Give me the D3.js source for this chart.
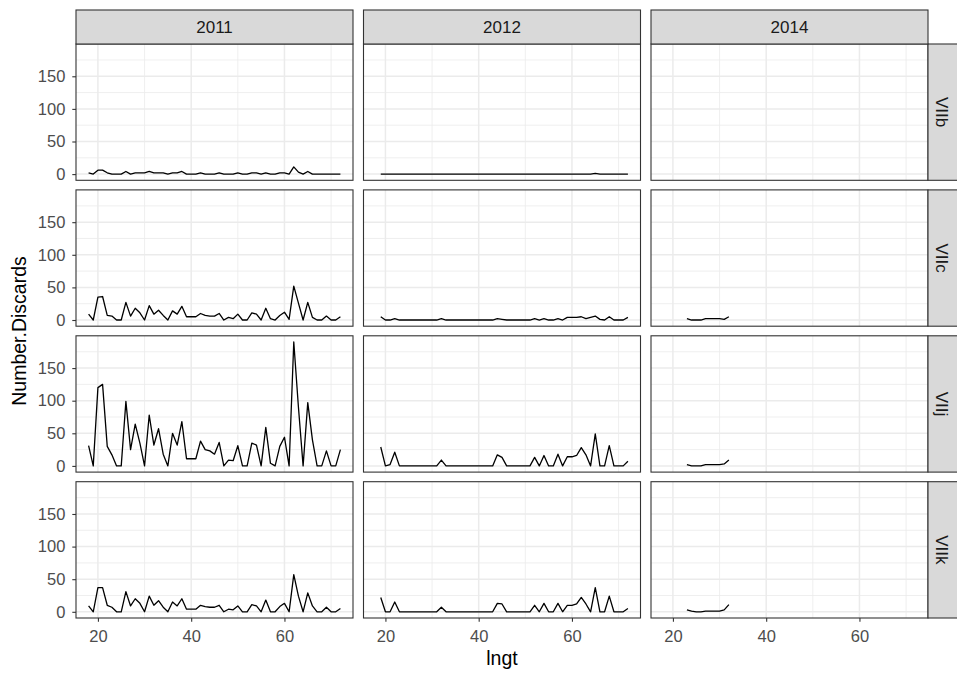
<!DOCTYPE html>
<html>
<meta charset="utf-8">
<style type="text/css">
  body { margin: 0; background: #fff; }
  svg { display: block; font-family: "Liberation Sans", Arial, sans-serif; }
</style>
<body>
<svg width="957" height="677"></svg>
<script src="https://d3js.org/d3.v7.min.js"></script>
<script>

// facets
const years = ["2011", "2012", "2014"];
const areas = ["VIIb", "VIIc", "VIIj", "VIIk"];

// length classes per year
const lngt2011 = [18,19,20,21,22,23,24,25,26,27,28,29,30,31,32,33,34,35,36,37,38,39,40,41,42,43,44,45,
                  46,47,48,49,50,51,52,53,54,55,56,57,58,59,60,61,62,63,64,65,66,67,68,69,70,71,72];
const lngt2012 = [19,20,21,22,23,24,25,26,27,28,29,30,31,32,33,34,35,36,37,38,39,40,41,42,43,44,45,
                  46,47,48,49,50,51,52,53,54,55,56,57,58,59,60,61,62,63,64,65,66,67,68,69,70,71,72];
const lngt2014 = [23,24,25,26,27,28,29,30,31,32];

// number of discards
const viib2011 = [2,0,6,6,2,0,0,0,4,0,2,2,2,4,2,2,2,0,2,2,4,0,0,0,2,0,0,0,2,0,0,0,2,0,0,2,2,0,2,0,0,2,2,0,11,3,0,4,0,0,0,0,0,0,0];
const viic2011 = [9,0,35,36,7,6,0,0,27,6,18,11,0,22,9,15,7,0,14,9,21,5,5,5,10,7,6,6,10,0,4,2,9,0,0,11,9,0,18,2,0,7,12,1,52,26,0,27,4,0,0,6,0,0,5];
const viij2011 = [31,0,120,125,30,17,0,0,99,25,64,35,0,78,32,57,18,0,50,32,68,11,11,11,38,25,23,18,36,0,9,8,31,0,0,35,32,0,59,4,0,30,44,0,190,90,0,97,40,0,0,23,0,0,25];
const viik2011 = [9,0,37,37,10,7,0,0,31,9,20,13,0,24,10,17,7,0,15,9,20,4,4,4,10,8,7,7,10,0,4,3,9,0,0,11,9,0,18,0,0,8,13,0,57,24,0,29,9,0,0,7,0,0,5];

const viib2012 = [0,0,0,0,0,0,0,0,0,0,0,0,0,0,0,0,0,0,0,0,0,0,0,0,0,0,0,0,0,0,0,0,0,0,0,0,0,0,0,0,0,0,0,0,0,0,1,0,0,0,0,0,0,0];
const viic2012 = [5,0,0,2,0,0,0,0,0,0,0,0,0,2,0,0,0,0,0,0,0,0,0,0,0,2,1,0,0,0,0,0,0,2,0,2,0,0,2,0,4,4,4,5,2,4,6,1,0,5,0,0,0,4];
const viij2012 = [29,0,2,21,0,0,0,0,0,0,0,0,0,9,0,0,0,0,0,0,0,0,0,0,0,17,13,0,0,0,0,0,0,13,0,16,0,0,18,0,14,14,16,28,17,0,49,0,0,31,0,0,0,7];
const viik2012 = [22,0,0,15,0,0,0,0,0,0,0,0,0,7,0,0,0,0,0,0,0,0,0,0,0,13,12,0,0,0,0,0,0,10,0,13,0,0,13,0,10,10,12,22,12,0,37,0,0,24,0,0,0,5];

const viic2014 = [2,0,0,0,2,2,2,2,1,5];
const viij2014 = [2,0,0,0,2,2,2,2,3,9];
const viik2014 = [3,1,0,0,1,1,1,1,3,11];

// axis breaks
const yBreaks = [0, 50, 100, 150];
const yMinor = [25, 75, 125, 175];
const xBreaks = [20, 40, 60];
const xMinor = [30, 50, 70];

const lengths = { "2011": lngt2011, "2012": lngt2012, "2014": lngt2014 };
const series = {
  "VIIb": { "2011": viib2011, "2012": viib2012, "2014": [] },
  "VIIc": { "2011": viic2011, "2012": viic2012, "2014": viic2014 },
  "VIIj": { "2011": viij2011, "2012": viij2012, "2014": viij2014 },
  "VIIk": { "2011": viik2011, "2012": viik2012, "2014": viik2014 }
};

const svg = d3.select("svg");

// panel layout
const colLeft = [76, 363.5, 651];
const panelW = 277;
const rowTop = [44, 189.9, 335.8, 481.7];
const panelH = 136.3;
const stripH = 34;

// x: range 18..72 plus 5% ; y: 0..190 plus 5%
const xDomain = [15.3, 74.7];
const yDomain = [-9.5, 199.5];

const line = (x, y) => d3.line().x(d => x(d[0])).y(d => y(d[1]));

areas.forEach((area, r) => {
  const y = d3.scaleLinear().domain(yDomain).range([rowTop[r] + panelH, rowTop[r]]);

  years.forEach((year, c) => {
    const x = d3.scaleLinear().domain(xDomain).range([colLeft[c], colLeft[c] + panelW]);
    const g = svg.append("g");

    g.append("rect")
      .attr("x", colLeft[c]).attr("y", rowTop[r])
      .attr("width", panelW).attr("height", panelH)
      .attr("fill", "#fff");

    // grid
    g.selectAll(".hmin").data(yMinor).enter().append("line")
      .attr("x1", colLeft[c]).attr("x2", colLeft[c] + panelW)
      .attr("y1", d => y(d)).attr("y2", d => y(d))
      .attr("stroke", "#EBEBEB").attr("stroke-width", 0.8);
    g.selectAll(".vmin").data(xMinor).enter().append("line")
      .attr("y1", rowTop[r]).attr("y2", rowTop[r] + panelH)
      .attr("x1", d => x(d)).attr("x2", d => x(d))
      .attr("stroke", "#EBEBEB").attr("stroke-width", 0.8);
    g.selectAll(".hmaj").data(yBreaks).enter().append("line")
      .attr("x1", colLeft[c]).attr("x2", colLeft[c] + panelW)
      .attr("y1", d => y(d)).attr("y2", d => y(d))
      .attr("stroke", "#EBEBEB").attr("stroke-width", 1.5);
    g.selectAll(".vmaj").data(xBreaks).enter().append("line")
      .attr("y1", rowTop[r]).attr("y2", rowTop[r] + panelH)
      .attr("x1", d => x(d)).attr("x2", d => x(d))
      .attr("stroke", "#EBEBEB").attr("stroke-width", 1.5);

    // data line
    const vals = series[area][year];
    if (vals.length) {
      const pts = vals.map((v, i) => [lengths[year][i], v]);
      g.append("path").datum(pts)
        .attr("d", line(x, y))
        .attr("fill", "none")
        .attr("stroke", "#000")
        .attr("stroke-width", 1.3)
        .attr("stroke-linejoin", "round");
    }

    // border
    g.append("rect")
      .attr("x", colLeft[c]).attr("y", rowTop[r])
      .attr("width", panelW).attr("height", panelH)
      .attr("fill", "none").attr("stroke", "#333").attr("stroke-width", 1.1);

    // y axis on first column
    if (c === 0) {
      const ya = svg.append("g")
        .attr("transform", `translate(${colLeft[0]},0)`)
        .call(d3.axisLeft(y).tickValues(yBreaks).tickSize(3.7).tickPadding(7));
      ya.select(".domain").remove();
      ya.selectAll("line").attr("stroke", "#333").attr("stroke-width", 1.1);
      ya.selectAll("text").attr("fill", "#4D4D4D").style("font-size", "16.5px");
    }
    // x axis on last row
    if (r === areas.length - 1) {
      const xa = svg.append("g")
        .attr("transform", `translate(0,${rowTop[r] + panelH})`)
        .call(d3.axisBottom(x).tickValues(xBreaks).tickSize(3.7).tickPadding(9));
      xa.select(".domain").remove();
      xa.selectAll("line").attr("stroke", "#333").attr("stroke-width", 1.1);
      xa.selectAll("text").attr("fill", "#4D4D4D").style("font-size", "16.5px");
    }
  });

  // right strip
  const sx = colLeft[2] + panelW;
  svg.append("rect")
    .attr("x", sx).attr("y", rowTop[r])
    .attr("width", stripH).attr("height", panelH)
    .attr("fill", "#D9D9D9").attr("stroke", "#333").attr("stroke-width", 1.1);
  svg.append("text")
    .attr("transform", `translate(${sx + 13.5},${rowTop[r] + panelH / 2}) rotate(90)`)
    .attr("text-anchor", "middle")
    .attr("dominant-baseline", "central")
    .attr("fill", "#1A1A1A")
    .style("font-size", "17px")
    .text(area);
});

// top strips
years.forEach((year, c) => {
  svg.append("rect")
    .attr("x", colLeft[c]).attr("y", rowTop[0] - stripH)
    .attr("width", panelW).attr("height", stripH)
    .attr("fill", "#D9D9D9").attr("stroke", "#333").attr("stroke-width", 1.1);
  svg.append("text")
    .attr("x", colLeft[c] + panelW / 2).attr("y", rowTop[0] - stripH / 2)
    .attr("text-anchor", "middle")
    .attr("dominant-baseline", "central")
    .attr("fill", "#1A1A1A")
    .style("font-size", "17px")
    .text(year);
});

// axis titles
svg.append("text")
  .attr("x", (colLeft[0] + colLeft[2] + panelW) / 2).attr("y", 665)
  .attr("text-anchor", "middle")
  .style("font-size", "19.5px")
  .text("lngt");

svg.append("text")
  .attr("transform", `translate(26,${(rowTop[0] + rowTop[3] + panelH) / 2}) rotate(-90)`)
  .attr("text-anchor", "middle")
  .style("font-size", "19.5px")
  .text("Number.Discards");

</script>
</body>
</html>
